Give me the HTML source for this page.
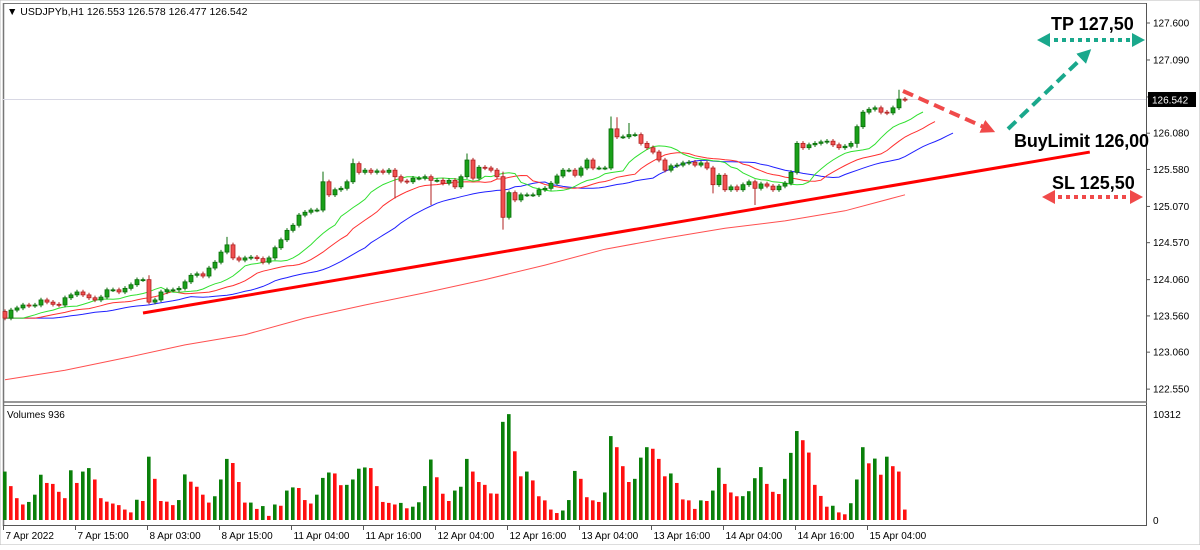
<!DOCTYPE html>
<html><head><meta charset="utf-8"><style>
html,body{margin:0;padding:0;background:#fff;}
svg text{font-family:"Liberation Sans",sans-serif;}
</style></head><body>
<svg id="chart" width="1200" height="545" xmlns="http://www.w3.org/2000/svg">
<rect x="0" y="0" width="1200" height="545" fill="#fff"/>
<rect x="0" y="0" width="1200" height="545" fill="none" stroke="#bbb" stroke-width="1"/>
<g id="frame">
<line x1="3.5" y1="3" x2="3.5" y2="526" stroke="#777" stroke-width="1.5"/>
<line x1="3" y1="3.5" x2="1147" y2="3.5" stroke="#777" stroke-width="1"/>
<line x1="1146.5" y1="3" x2="1146.5" y2="526" stroke="#555" stroke-width="1"/>
<line x1="3" y1="402" x2="1147" y2="402" stroke="#777" stroke-width="1.5"/>
<line x1="3" y1="405.5" x2="1147" y2="405.5" stroke="#777" stroke-width="1"/>
<line x1="3" y1="525.5" x2="1147" y2="525.5" stroke="#555" stroke-width="1"/>
<line x1="3" y1="99.5" x2="1146" y2="99.5" stroke="#d8d8e4" stroke-width="1"/>
</g>
<text x="7" y="15" font-size="10.5" fill="#000">▼ USDJPYb,H1  126.553 126.578 126.477 126.542</text>
<text x="7" y="418" font-size="10" fill="#000">Volumes 936</text>
<g id="axes"></g>
<g id="mas"></g>
<g id="candles"></g>
<g id="vols"></g>
<g id="annot">
<defs>
<marker id="ar" markerUnits="userSpaceOnUse" markerWidth="16" markerHeight="16" refX="4" refY="8" orient="auto"><path d="M0,1 L14,8 L0,15 z" fill="#f04a4a"/></marker>
<marker id="at" markerUnits="userSpaceOnUse" markerWidth="16" markerHeight="16" refX="4" refY="8" orient="auto"><path d="M0,1 L14,8 L0,15 z" fill="#1aa88c"/></marker>
</defs>
<line x1="903" y1="91" x2="986" y2="128" stroke="#f04a4a" stroke-width="4" stroke-dasharray="11,6" marker-end="url(#ar)"/>
<line x1="1008" y1="129" x2="1084" y2="56" stroke="#1aa88c" stroke-width="4" stroke-dasharray="11,6" marker-end="url(#at)"/>
<g>
<line x1="1046" y1="40" x2="1136" y2="40" stroke="#1aa88c" stroke-width="4" stroke-dasharray="4,4"/>
<path d="M1037,40 L1050,33 L1050,47 z" fill="#1aa88c"/><path d="M1145,40 L1132,33 L1132,47 z" fill="#1aa88c"/>
</g>
<g>
<line x1="1050" y1="197" x2="1134" y2="197" stroke="#f04a4a" stroke-width="4" stroke-dasharray="4,4"/>
<path d="M1042,197 L1055,190 L1055,204 z" fill="#f04a4a"/><path d="M1143,197 L1130,190 L1130,204 z" fill="#f04a4a"/>
</g>
<text x="1051" y="30" font-size="18" font-weight="bold" fill="#000">TP 127,50</text>
<text x="1014" y="147" font-size="18" font-weight="bold" fill="#000" textLength="135">BuyLimit 126,00</text>
<text x="1052" y="189" font-size="18" font-weight="bold" fill="#000">SL 125,50</text>
</g>
<g>
<rect x="1148" y="92" width="48" height="15" fill="#000"/>
<text x="1152" y="103.5" font-size="10" fill="#fff">126.542</text>
</g>
</svg>
<script>
const closes=[123.53,123.64,123.67,123.71,123.70,123.71,123.78,123.75,123.72,123.71,
123.81,123.85,123.89,123.85,123.81,123.78,123.82,123.92,123.92,123.89,
123.94,123.99,124.06,124.06,123.75,123.78,123.89,123.92,123.92,123.94,
124.03,124.12,124.14,124.11,124.22,124.30,124.44,124.54,124.36,124.33,
124.36,124.37,124.35,124.30,124.36,124.50,124.61,124.74,124.81,124.95,
124.99,125.02,125.02,125.41,125.23,125.30,125.32,125.41,125.66,125.54,
125.57,125.54,125.56,125.54,125.57,125.48,125.42,125.41,125.46,125.46,
125.48,125.43,125.43,125.39,125.43,125.34,125.48,125.71,125.46,125.61,
125.60,125.57,125.48,124.92,125.26,125.16,125.23,125.23,125.23,125.30,
125.32,125.39,125.49,125.57,125.57,125.50,125.60,125.71,125.60,125.60,
125.60,126.14,126.03,126.03,126.06,126.06,125.94,125.88,125.82,125.71,
125.57,125.63,125.64,125.67,125.68,125.64,125.67,125.60,125.37,125.50,
125.30,125.34,125.30,125.37,125.41,125.32,125.38,125.35,125.30,125.35,
125.39,125.54,125.94,125.88,125.92,125.94,125.96,125.97,125.92,125.88,
125.90,125.94,126.17,126.37,126.41,126.43,126.37,126.36,126.43,126.55,126.542];
const firstOpen=123.62;
const wickBars=[24,37,53,58,65,71,77,83,83,101,102,104,118,125,142,149];
const wickPrices=[124.12,124.65,125.55,125.73,125.18,125.09,125.80,125.55,124.75,126.31,126.30,126.22,125.25,125.09,125.88,126.68];
const volumes=[4712,3296,2125,1509,1756,2464,4404,3604,3511,2741,
2125,4836,3604,4712,5051,3942,2125,1786,1602,1448,
1016,739,1971,1848,6160,4004,1848,1786,1448,1940,
4435,3727,3234,2464,1694,2310,3942,5944,5544,3696,
1694,1694,1078,1355,400,1509,1386,2864,3172,3111,
1940,1602,2464,4096,4620,4528,3388,3419,3942,4990,
5113,5051,3296,1756,1663,1509,1663,1140,1294,1725,
3296,5883,4158,2556,1848,2864,3234,5944,4712,3696,
3419,2587,2556,9548,10300,6684,4250,4712,3850,2310,
1910,1016,678,924,1940,4774,4004,2218,1910,1756,
2680,8162,7084,5236,3696,4004,6068,7084,6930,5944,
4250,4528,3604,2002,1910,1078,1910,1848,2864,5082,
3511,2680,2310,2320,2803,4066,5144,3511,2741,2526,
4004,6530,8655,7762,6560,3419,2341,1294,1386,739,
554,1632,3942,7084,5513,5975,4404,6160,5236,4712,1016];
const longMaBars=[0,10,20,30,40,50,60,70,80,90,100,110,120,130,140,150];
const longMaValues=[122.68,122.81,122.98,123.16,123.30,123.53,123.71,123.88,124.06,124.26,124.48,124.63,124.77,124.87,125.01,125.23];
const trendBars=[23,180.8];
const trendPrices=[123.60,125.82];
const priceTicks=[127.600,127.090,126.580,126.080,125.580,125.070,124.570,124.060,123.560,123.060,122.550];
const timeLabels=["7 Apr 2022","7 Apr 15:00","8 Apr 03:00","8 Apr 15:00","11 Apr 04:00","11 Apr 16:00","12 Apr 04:00","12 Apr 16:00","13 Apr 04:00","13 Apr 16:00","14 Apr 04:00","14 Apr 16:00","15 Apr 04:00"];
const volMax=10312;

const NS="http://www.w3.org/2000/svg";
const xB=i=>5+6*i;
const yP=p=>23+(127.6-p)*72.5;
const yV=v=>520-v*(106/volMax);
function mk(tag,attrs,parent){const e=document.createElementNS(NS,tag);for(const k in attrs)e.setAttribute(k,attrs[k]);parent.appendChild(e);return e;}
const axes=document.getElementById('axes');
priceTicks.forEach(p=>{
  const y=yP(p);
  const t=mk('line',{x1:1146,y1:y,x2:1150,y2:y,stroke:'#555'},axes);
  
  
  const l=mk('text',{x:1153,y:y+3.5,'font-size':10,fill:'#000'},axes);
  l.textContent=p.toFixed(3);
  
  
});
[volMax,0].forEach(v=>{
  const l=mk('text',{x:1153,y:yV(v)+4,'font-size':10,fill:'#000'},axes);
  l.textContent=String(v);
  
  
});
timeLabels.forEach((s,k)=>{
  const x=xB(12*k)-1.5;
  const t=mk('line',{x1:x,y1:525,x2:x,y2:530,stroke:'#555'},axes);
  
  
  const l=mk('text',{x:x+2,y:539,'font-size':10,fill:'#000'},axes);
  l.textContent=s;
  
  
});
const mas=document.getElementById('mas');
function smma(n){const r=[];let v=closes[0];closes.forEach((c,i)=>{v=i===0?c:(v*(n-1)+c)/n;r.push(v);});return r;}
[[13,8,'#2020ff','jaw-line'],[8,5,'#ff3030','teeth-line'],[5,3,'#30e030','lips-line']].forEach(([n,s,col,name])=>{
  const m=smma(n);
  const d='M4,'+yP(m[0]).toFixed(1)+' '+m.map(v=>v).map((v,i)=>'L'+xB(i+s).toFixed(1)+','+yP(v).toFixed(1)).join(' ');
  const p=mk('path',{d:d,fill:'none',stroke:col,'stroke-width':1},mas);
  
  
});
const ld=longMaBars.map((b,i)=>(i?'L':'M')+xB(b)+','+yP(longMaValues[i]).toFixed(1)).join(' ');
const lm=mk('path',{d:ld,fill:'none',stroke:'#ff5050','stroke-width':1},mas);


const tl=mk('line',{x1:xB(trendBars[0]),y1:yP(trendPrices[0]),x2:xB(trendBars[1]),y2:yP(trendPrices[1]),stroke:'#ff0000','stroke-width':3},mas);


const cg=document.getElementById('candles');
closes.forEach((c,i)=>{
  const o=i===0?firstOpen:closes[i-1];
  let hi=Math.max(o,c)+0.03, lo=Math.min(o,c)-0.03;
  wickBars.forEach((b,k)=>{if(b===i){const w=wickPrices[k];if(w>Math.max(o,c))hi=w;else lo=w;}});
  const up=c>=o, x=xB(i);
  const stroke=up?'#0a6e0a':'#b02020', fill=up?'#19a019':'#f05050';
  const g=mk('g',{},cg);
  
  
  mk('line',{x1:x,y1:yP(hi),x2:x,y2:yP(lo),stroke:stroke,'stroke-width':1},g);
  const yt=yP(Math.max(o,c)), yb=yP(Math.min(o,c));
  mk('rect',{x:x-2,y:yt,width:4,height:Math.max(1,yb-yt),fill:fill,stroke:stroke,'stroke-width':0.8},g);
});
const vg=document.getElementById('vols');
volumes.forEach((v,i)=>{
  const up=i===0||v>=volumes[i-1];
  const y=yV(v);
  const r=mk('rect',{x:xB(i)-2,y:y,width:3.6,height:520-y,fill:up?'#0a800a':'#ff1010'},vg);
  
  
});
</script>
</body></html>
